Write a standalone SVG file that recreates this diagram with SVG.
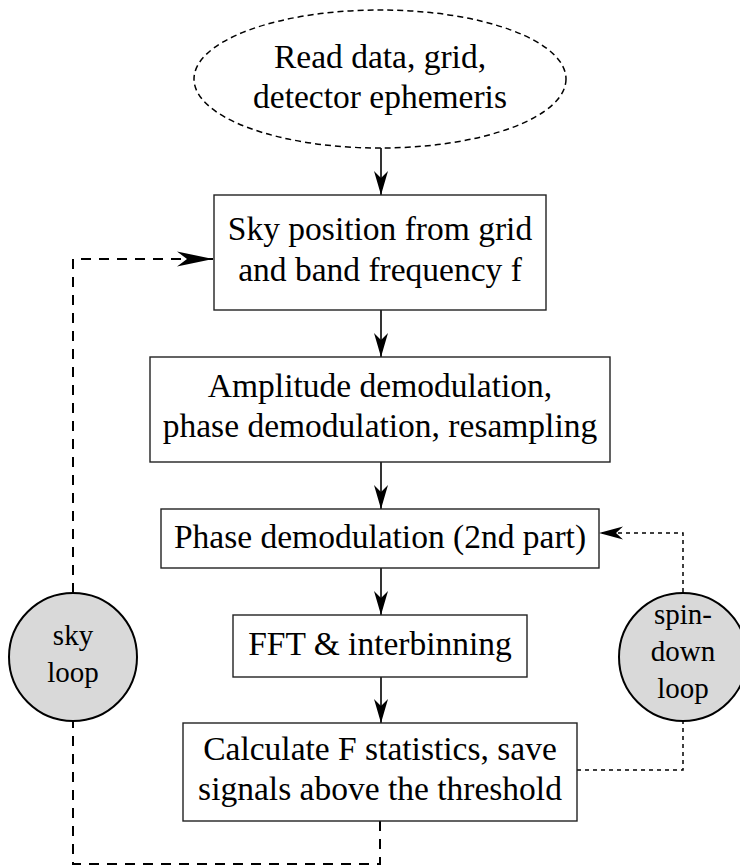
<svg xmlns="http://www.w3.org/2000/svg" width="740" height="867" viewBox="0 0 740 867">
<style>
  .box { fill: #fff; stroke: #222; stroke-width: 1.4; }
  .t { font-family: "Liberation Serif", "Times New Roman", serif; font-size: 33.5px; fill: #000; text-anchor: middle; }
  .ct { font-family: "Liberation Serif", "Times New Roman", serif; font-size: 29px; fill: #000; text-anchor: middle; }
  .loop { fill: #d9d9d9; stroke: #000; stroke-width: 2; }
  .solid { fill: none; stroke: #000; stroke-width: 1.6; }
  .dash { fill: none; stroke: #000; stroke-width: 2; stroke-dasharray: 10 8; }
  .dot { fill: none; stroke: #000; stroke-width: 1.5; stroke-dasharray: 4 4; }
</style>
<defs>
  <marker id="ah" markerUnits="userSpaceOnUse" markerWidth="30" markerHeight="20" viewBox="-26 -10 30 20" refX="0" refY="0" orient="auto">
    <path d="M0,0 L-24,-7 L-17,0 L-24,7 Z" fill="#000"/>
  </marker>
  <marker id="ahl" markerUnits="userSpaceOnUse" markerWidth="40" markerHeight="20" viewBox="-38 -10 40 20" refX="0" refY="0" orient="auto">
    <path d="M0,0 L-36,-7.5 L-26,0 L-36,7.5 Z" fill="#000"/>
  </marker>
  <marker id="ahs" markerUnits="userSpaceOnUse" markerWidth="30" markerHeight="20" viewBox="-26 -10 30 20" refX="0" refY="0" orient="auto">
    <path d="M0,0 L-24,-6.5 L-17,0 L-24,6.5 Z" fill="#000"/>
  </marker>
</defs>

<g id="connectors">
  <path class="solid" d="M381,148 V195" marker-end="url(#ah)"/>
  <path class="solid" d="M381,310 V357" marker-end="url(#ah)"/>
  <path class="solid" d="M381,462 V509" marker-end="url(#ah)"/>
  <path class="solid" d="M381,568 V615" marker-end="url(#ah)"/>
  <path class="solid" d="M381,677 V723" marker-end="url(#ah)"/>
  <path class="dash" d="M73,593 V259 H213" marker-end="url(#ahl)"/>
  <path class="dash" d="M380,821 V864 H73 V721"/>
  <path class="dot" d="M683,592 V533 H599" marker-end="url(#ahs)"/>
  <path class="dot" d="M577,770 H683 V722"/>
</g>

<g id="start">
  <ellipse cx="380" cy="79" rx="186" ry="69" fill="#fff" stroke="#000" stroke-width="1.5" stroke-dasharray="6 4"/>
  <text class="t" x="380" y="68">Read data, grid,</text>
  <text class="t" x="380" y="108">detector ephemeris</text>
</g>

<g id="sky-position">
  <rect class="box" x="214" y="195" width="332" height="115"/>
  <text class="t" x="380" y="240">Sky position from grid</text>
  <text class="t" x="380" y="281">and band frequency f</text>
</g>

<g id="amplitude">
  <rect class="box" x="150" y="357" width="460" height="105"/>
  <text class="t" x="380" y="397">Amplitude demodulation,</text>
  <text class="t" x="380" y="437">phase demodulation, resampling</text>
</g>

<g id="phase2">
  <rect class="box" x="161" y="509" width="438" height="59"/>
  <text class="t" x="380" y="548">Phase demodulation (2nd part)</text>
</g>

<g id="fft">
  <rect class="box" x="233" y="615" width="294" height="62"/>
  <text class="t" x="380" y="655">FFT &amp; interbinning</text>
</g>

<g id="fstat">
  <rect class="box" x="183" y="723" width="394" height="98"/>
  <text class="t" x="380" y="760">Calculate F statistics, save</text>
  <text class="t" x="380" y="800">signals above the threshold</text>
</g>

<g id="sky-loop">
  <circle class="loop" cx="73" cy="657" r="64"/>
  <text class="ct" x="73" y="645">sky</text>
  <text class="ct" x="73" y="682">loop</text>
</g>

<g id="spindown-loop">
  <circle class="loop" cx="683" cy="657" r="64"/>
  <text class="ct" x="683" y="624">spin-</text>
  <text class="ct" x="683" y="661">down</text>
  <text class="ct" x="683" y="698">loop</text>
</g>
</svg>
